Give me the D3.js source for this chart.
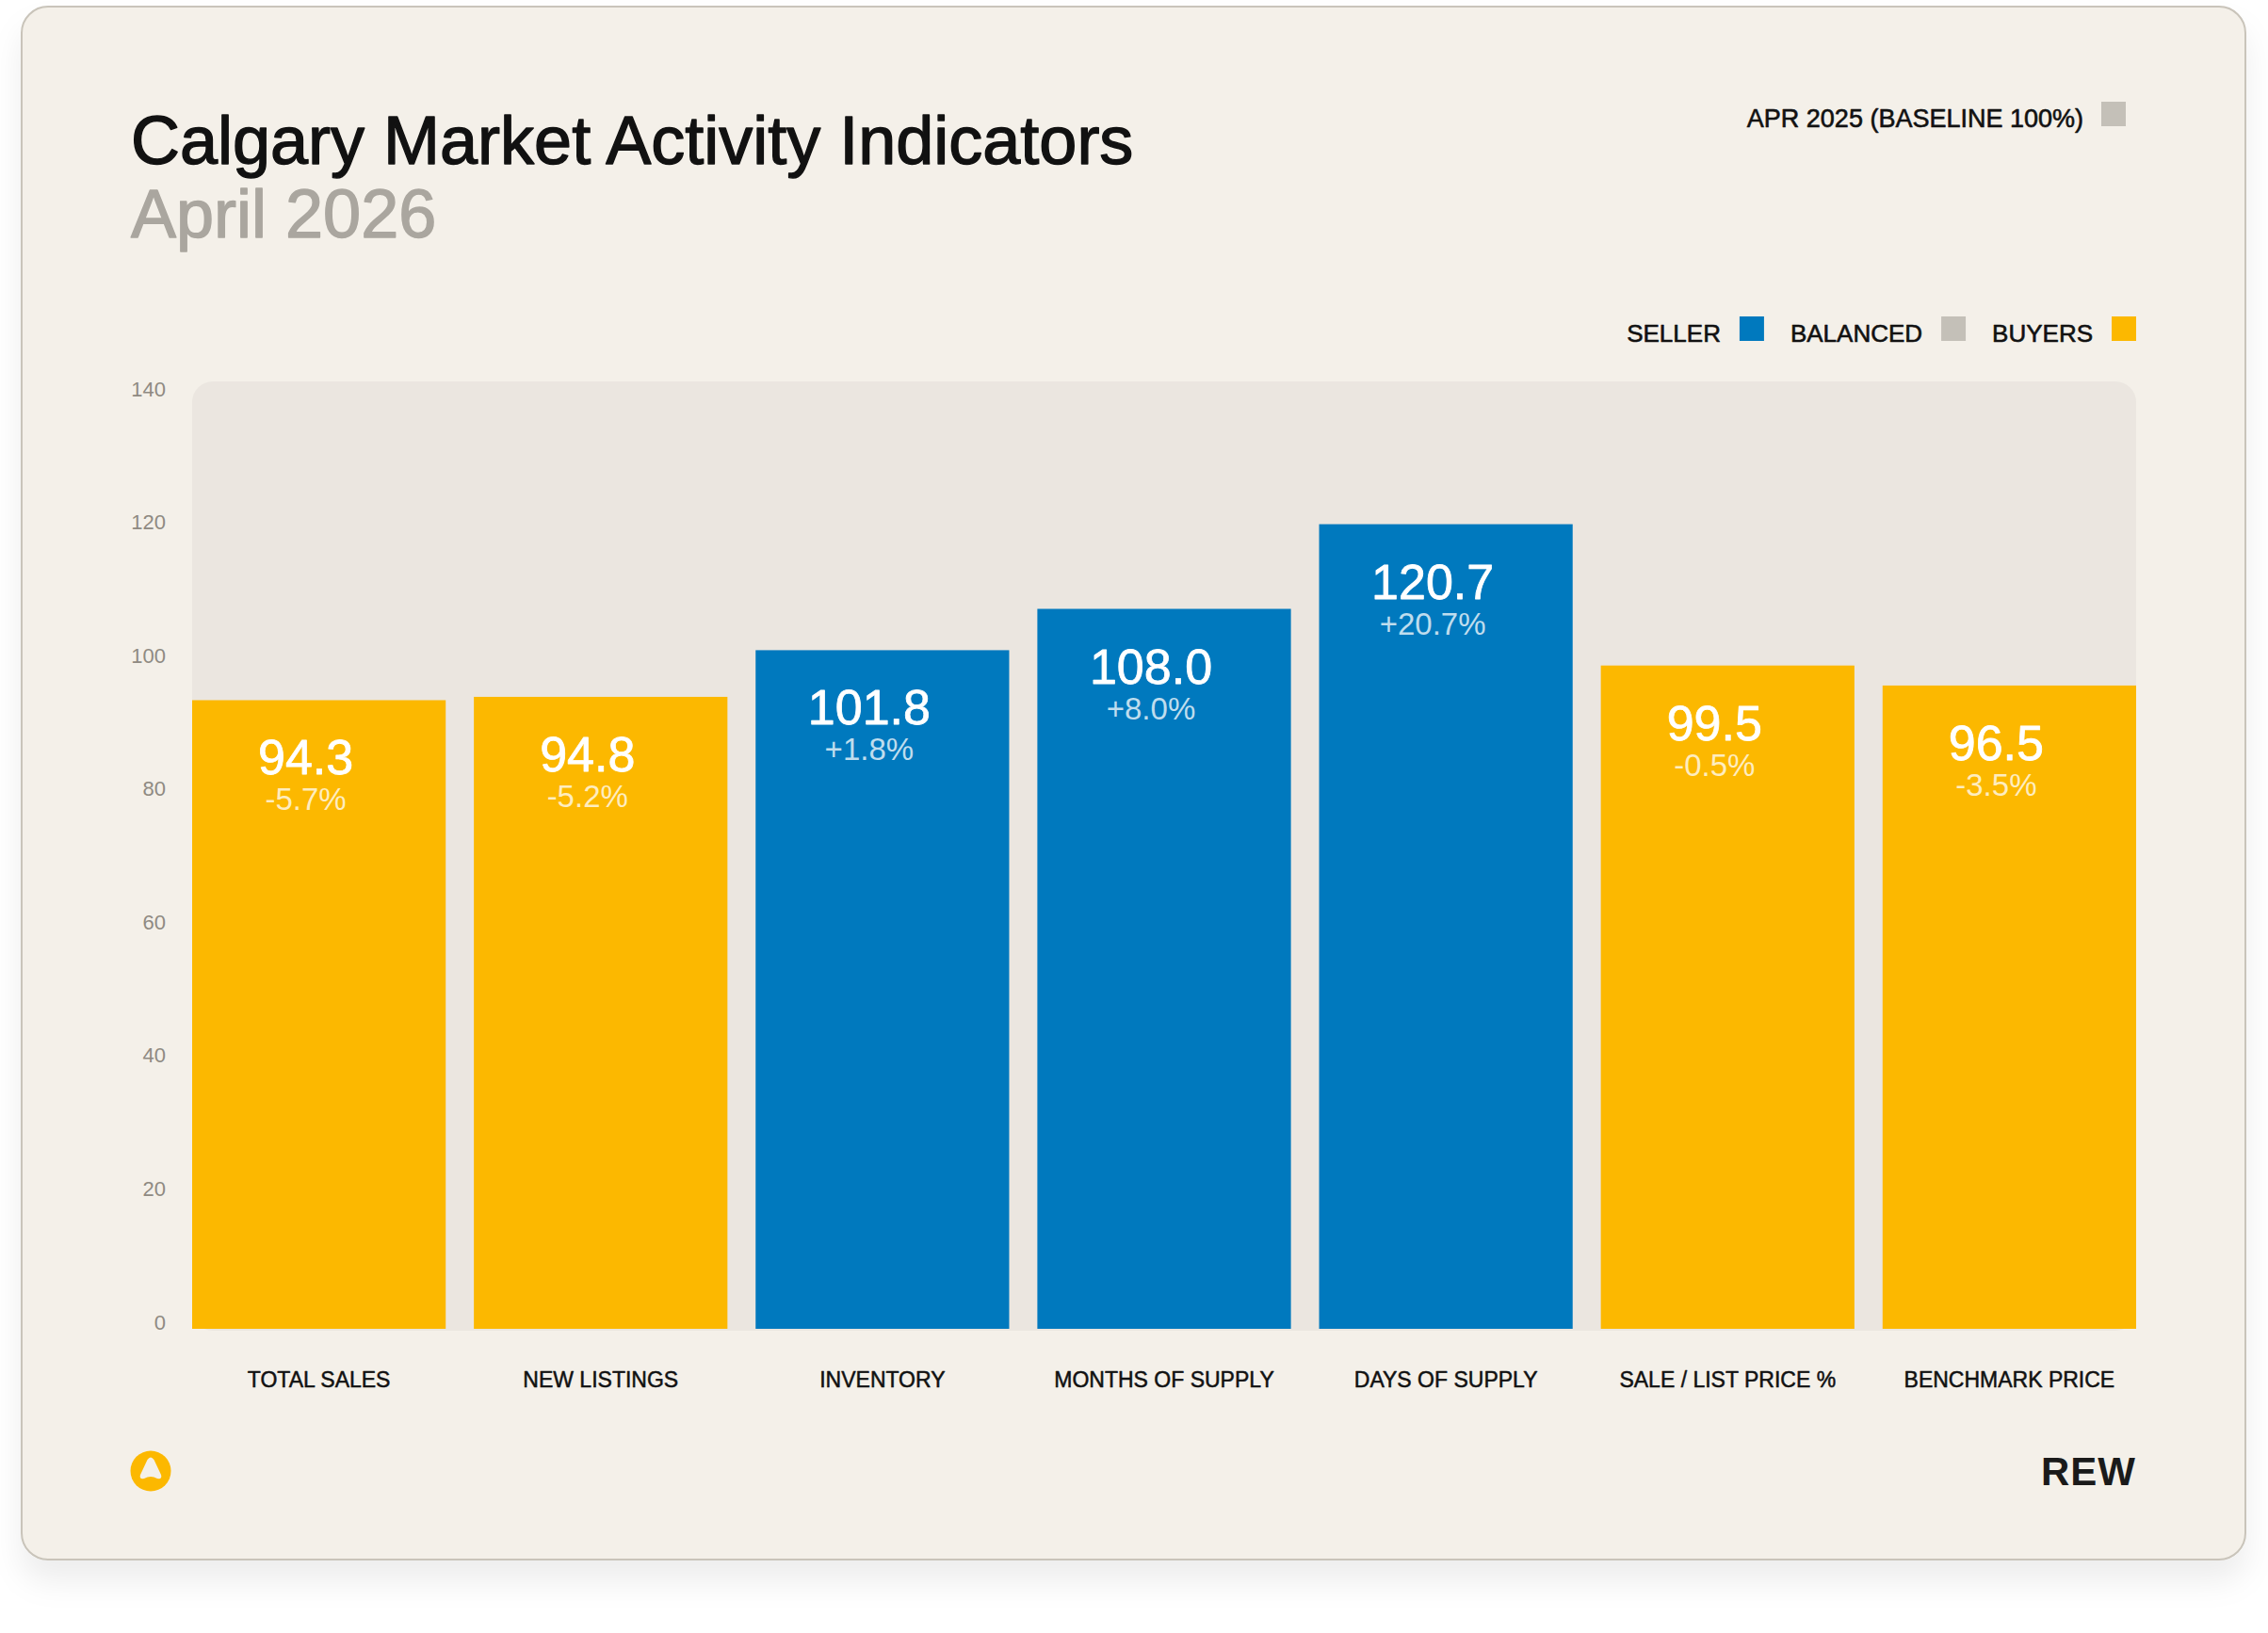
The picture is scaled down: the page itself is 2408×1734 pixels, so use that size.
<!DOCTYPE html>
<html>
<head>
<meta charset="utf-8">
<script src="https://cdn.jsdelivr.net/npm/d3@7"></script>
<style>
  body { margin: 0; background: #ffffff; }
  svg text { font-family: "Liberation Sans", Arial, sans-serif; }
</style>
</head>
<body>
<div id="chart"></div>
<script>
// data
const categories = ["TOTAL SALES", "NEW LISTINGS", "INVENTORY", "MONTHS OF SUPPLY", "DAYS OF SUPPLY", "SALE / LIST PRICE %", "BENCHMARK PRICE"];
const values = [94.3, 94.8, 101.8, 108.0, 120.7, 99.5, 96.5];
const changes = ["-5.7%", "-5.2%", "+1.8%", "+8.0%", "+20.7%", "-0.5%", "-3.5%"];
const market = ["buyers", "buyers", "seller", "seller", "seller", "buyers", "buyers"];
const yTicks = [0, 20, 40, 60, 80, 100, 120, 140];
const legendItems = ["SELLER", "BALANCED", "BUYERS"];
const legendKeys = ["seller", "balanced", "buyers"];

const colorMap = {
  seller: "#0079BE",
  balanced: "#C4C0B8",
  buyers: "#FCB800"
};

const W = 2408, H = 1734;

const svg = d3.select("#chart")
  .append("svg")
  .attr("width", W)
  .attr("height", H);

// make regular text look a touch heavier (medium weight)
function medium(sel, w, col) {
  return sel.style("stroke", col).style("stroke-width", w + "px")
    .style("stroke-linejoin", "round").style("paint-order", "stroke");
}

// card shadow
const defs = svg.append("defs");
const shadow = defs.append("filter").attr("id", "cardShadow")
  .attr("x", "-5%").attr("y", "-5%").attr("width", "110%").attr("height", "115%");
shadow.append("feDropShadow")
  .attr("dx", 0).attr("dy", 22)
  .attr("stdDeviation", 16)
  .attr("flood-color", "#000")
  .attr("flood-opacity", 0.07);

svg.append("rect")
  .attr("x", 23).attr("y", 7)
  .attr("width", 2361).attr("height", 1649)
  .attr("rx", 28)
  .attr("fill", "#F4F0E9")
  .attr("stroke", "#C9C4BA")
  .attr("stroke-width", 2)
  .attr("filter", "url(#cardShadow)");

// --- titles ---
medium(svg.append("text")
  .attr("x", 139).attr("y", 174)
  .style("font-size", "72px")
  .style("fill", "#111")
  .text("Calgary Market Activity Indicators"), 1.4, "#111");

medium(svg.append("text")
  .attr("x", 139).attr("y", 252)
  .style("font-size", "72px")
  .style("fill", "#AAA69F")
  .text("April 2026"), 1.4, "#AAA69F");

// baseline legend
svg.append("rect")
  .attr("x", 2231).attr("y", 108)
  .attr("width", 26).attr("height", 26)
  .attr("fill", colorMap.balanced);
medium(svg.append("text")
  .attr("x", 2212).attr("y", 135)
  .attr("text-anchor", "end")
  .style("font-size", "27px")
  .style("fill", "#111")
  .text("APR 2025 (BASELINE 100%)"), 0.6, "#111");

// market legend, laid out from the right
const legend = svg.append("g");
let lx = 2268;
for (let i = legendItems.length - 1; i >= 0; i--) {
  legend.append("rect")
    .attr("x", lx - 26).attr("y", 336)
    .attr("width", 26).attr("height", 26)
    .attr("fill", colorMap[legendKeys[i]]);
  const t = legend.append("text")
    .attr("x", lx - 26 - 20).attr("y", 363)
    .attr("text-anchor", "end")
    .style("font-size", "26px")
    .style("fill", "#111")
    .text(legendItems[i]);
  medium(t, 0.6, "#111");
  lx = lx - 26 - 20 - t.node().getComputedTextLength() - 28;
}

// --- chart ---
const plot = { left: 204, right: 2268, top: 405, bottom: 1411 };

const x = d3.scaleBand()
  .domain(categories)
  .range([plot.left, plot.right])
  .paddingInner(0.1)
  .paddingOuter(0);

const y = d3.scaleLinear()
  .domain([0, 140])
  .range([plot.bottom, 420]);

svg.append("rect")
  .attr("x", plot.left).attr("y", plot.top)
  .attr("width", plot.right - plot.left)
  .attr("height", plot.bottom + 2 - plot.top)
  .attr("rx", 22)
  .attr("fill", "#EBE6E0");

// y axis labels
const yAxis = svg.append("g")
  .attr("transform", `translate(${plot.left},0)`)
  .call(d3.axisLeft(y).tickValues(yTicks).tickSize(0).tickPadding(28));
yAxis.select(".domain").remove();
yAxis.selectAll("text")
  .attr("y", -7)
  .style("font-family", "'Liberation Sans', Arial, sans-serif")
  .style("font-size", "22px")
  .style("fill", "#8F8A82");

// bars
const data = categories.map((c, i) => ({ cat: c, value: values[i], change: changes[i], market: market[i] }));

svg.selectAll(".bar")
  .data(data)
  .enter()
  .append("rect")
  .attr("class", "bar")
  .attr("x", d => x(d.cat))
  .attr("width", x.bandwidth())
  .attr("y", d => y(d.value))
  .attr("height", d => y(0) - y(d.value))
  .attr("fill", d => colorMap[d.market]);

medium(svg.selectAll(".val-label")
  .data(data)
  .enter()
  .append("text")
  .attr("class", "val-label")
  .attr("x", d => x(d.cat) + x.bandwidth() / 2 - 14)
  .attr("y", d => y(d.value) + 79)
  .attr("text-anchor", "middle")
  .style("font-size", "52px")
  .style("fill", "#fff")
  .text(d => d.value.toFixed(1)), 0.8, "#fff");

svg.selectAll(".chg-label")
  .data(data)
  .enter()
  .append("text")
  .attr("class", "chg-label")
  .attr("x", d => x(d.cat) + x.bandwidth() / 2 - 14)
  .attr("y", d => y(d.value) + 117)
  .attr("text-anchor", "middle")
  .style("font-size", "33px")
  .style("fill", "#fff")
  .style("fill-opacity", 0.75)
  .text(d => d.change);

// category labels
const xAxis = svg.append("g")
  .attr("transform", `translate(0,${plot.bottom})`)
  .call(d3.axisBottom(x).tickSize(0).tickPadding(46));
xAxis.select(".domain").remove();
medium(xAxis.selectAll("text")
  .style("font-family", "'Liberation Sans', Arial, sans-serif")
  .style("font-size", "23px")
  .style("fill", "#111"), 0.5, "#111");

// --- footer ---
svg.append("circle")
  .attr("cx", 160).attr("cy", 1562)
  .attr("r", 21.5)
  .attr("fill", colorMap.buyers);
svg.append("path")
  .attr("d", "M156.5,1550 Q160,1545 163.5,1550 L171,1566 Q172.5,1571 167,1570 Q160,1566 153,1570 Q147.5,1571 149,1566 Z")
  .attr("fill", "#F4F0E9");

svg.append("text")
  .attr("x", 2268).attr("y", 1577)
  .attr("text-anchor", "end")
  .style("font-size", "42px")
  .style("font-weight", "700")
  .style("letter-spacing", "1px")
  .style("fill", "#1A1A1A")
  .text("REW");
</script>
</body>
</html>
